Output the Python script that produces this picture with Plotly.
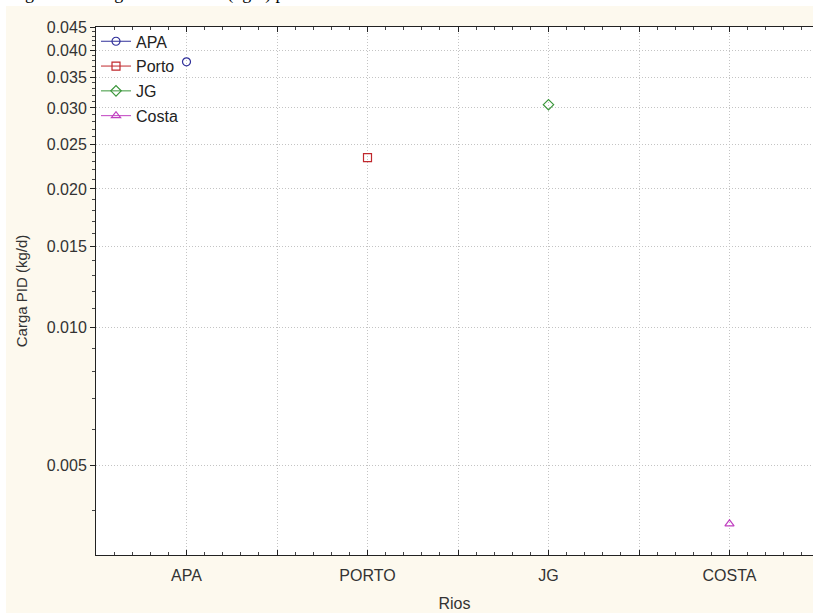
import math
import plotly.graph_objects as go

# ---- data ----
categories = ["APA", "PORTO", "JG", "COSTA"]
series_names = ["APA", "Porto", "JG", "Costa"]
series_values = [0.0378, 0.0234, 0.0305, 0.00374]
series_colors = ["#30309a", "#c0282d", "#3a963a", "#c040c0"]
series_symbols = ["circle-open", "square-open", "diamond-open", "triangle-up-open"]
y_tick_vals = [0.005, 0.010, 0.015, 0.020, 0.025, 0.030, 0.035, 0.040, 0.045]
y_tick_text = ["0.005", "0.010", "0.015", "0.020", "0.025", "0.030", "0.035", "0.040", "0.045"]
y_minor_vals = [round(0.001 * k, 3) for k in range(4, 45) if k % 5 != 0]

FONT = "Liberation Sans, Arial, sans-serif"

fig = go.Figure()
for i, (name, val, col, sym) in enumerate(zip(series_names, series_values, series_colors, series_symbols)):
    fig.add_trace(go.Scatter(
        x=[i], y=[val], name=name, mode="lines+markers",
        legendgroup=name,
        marker=dict(symbol=sym, size=8, color=col, line=dict(width=1.2, color=col)),
        line=dict(color=col, width=1),
    ))

x_tickvals = [k * 0.5 for k in range(-1, 8)]
x_ticktext = [categories[int(v)] if float(v).is_integer() and 0 <= v < len(categories) else "" for v in x_tickvals]

GRID = "#c4c4c4"

fig.update_layout(
    width=813, height=613,
    margin=dict(l=96, r=0, t=27, b=58),
    paper_bgcolor="#fdf9ee",
    plot_bgcolor="white",
    font=dict(family=FONT, size=16, color="#333333"),
    showlegend=True,
    legend=dict(x=0.0, y=1.005, xanchor="left", yanchor="top", bgcolor="rgba(0,0,0,0)",
                font=dict(size=16, color="#222222"), itemwidth=30,
                tracegroupgap=1, traceorder="grouped"),
    xaxis=dict(
        range=[-0.5, -0.5 + 717 / 181.0],
        tickmode="array", tickvals=x_tickvals, ticktext=x_ticktext,
        ticks="inside", ticklen=5, tickcolor="#222222",
        showline=True, linecolor="#222222", linewidth=1, mirror="ticks",
        showgrid=True, gridcolor=GRID, griddash="1px,2px", gridwidth=1,
        zeroline=False,
        minor=dict(dtick=0.1, tick0=-0.5, ticks="inside", ticklen=3, tickcolor="#444444", showgrid=False),
        tickfont=dict(size=16), ticklabelstandoff=6,
        title=dict(text="Rios", standoff=14, font=dict(size=16)),
    ),
    yaxis=dict(
        type="log",
        range=[math.log10(0.0032), math.log10(0.045)],
        tickmode="array", tickvals=y_tick_vals, ticktext=y_tick_text,
        ticks="outside", ticklen=5, tickcolor="#222222",
        showline=True, linecolor="#222222", linewidth=1,
        showgrid=True, gridcolor=GRID, griddash="1px,2px", gridwidth=1,
        zeroline=False,
        minor=dict(tickmode="array", tickvals=y_minor_vals, ticks="outside", ticklen=3,
                   tickcolor="#444444", showgrid=False),
        tickfont=dict(size=16),
        title=dict(text="Carga PID (kg/d)", standoff=15, font=dict(size=15)),
    ),
    shapes=[
        dict(type="rect", xref="paper", yref="paper", x0=-0.2, x1=1.1,
             y0=1 + 21 / 528, y1=1.2, fillcolor="white", line=dict(width=0), layer="below"),
        dict(type="rect", xref="paper", yref="paper", x0=-0.2, x1=-0.1255,
             y0=-0.2, y1=1.2, fillcolor="white", line=dict(width=0), layer="below"),
    ],
    annotations=[
        dict(text="Figura 5 – Carga total de PID (kg/d) para cada rio.",
             xref="paper", yref="paper", x=(8 - 96) / 717, y=1 + 21 / 528,
             xanchor="left", yanchor="bottom", showarrow=False,
             font=dict(family="Liberation Serif, Times New Roman, serif", size=18, color="#000000")),
    ],
)

fig.write_html("out.html", config={"displayModeBar": False},
               post_script="document.body.style.margin='0px';document.body.style.overflow='hidden';")
